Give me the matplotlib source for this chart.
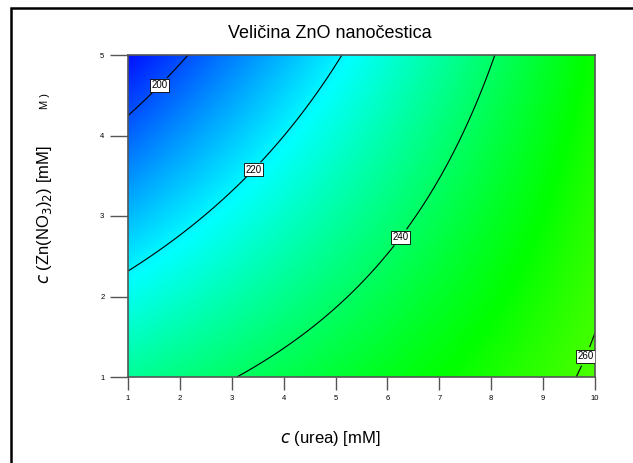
import numpy as np
import matplotlib
matplotlib.use("Agg")
import matplotlib.pyplot as plt
from matplotlib.colors import LinearSegmentedColormap
from matplotlib.patches import Rectangle

plt.rcParams['font.family'] = ['Liberation Sans', 'DejaVu Sans']

# --- points (urea, Zn(NO3)2) ---
c200_x = [1.0, 1.33, 2.15]
c200_y = [4.25, 4.44, 5.0]
c220_x = [1.0, 1.35, 2.83, 3.60, 4.55, 5.12]
c220_y = [2.33, 2.45, 3.20, 3.70, 4.44, 5.0]
c240_x = [3.1, 3.66, 5.16, 5.89, 6.74, 7.2, 7.74, 8.07]
c240_y = [1.0, 1.21, 1.96, 2.45, 3.20, 3.70, 4.44, 5.0]
c260_x = [9.63, 9.9, 10.0]
c260_y = [1.0, 1.36, 1.55]

levels = [200, 220, 240, 260]
label_pos = [(1.56, 4.66), (3.35, 3.62), (6.2, 2.76), (9.77, 1.27)]

x_ticks = [1, 2, 3, 4, 5, 6, 7, 8, 9, 10]
y_ticks = [1, 2, 3, 4, 5]

# --- quadratic response surface fitted to the contour points ---
px = np.array(c200_x + c220_x + c240_x + c260_x)
py = np.array(c200_y + c220_y + c240_y + c260_y)
pz = np.array([200]*len(c200_x) + [220]*len(c220_x) + [240]*len(c240_x) + [260]*len(c260_x))
A = np.column_stack([np.ones_like(px), px, py, px**2, py**2, px*py])
coef, *_ = np.linalg.lstsq(A, pz, rcond=None)

gx = np.linspace(1, 10, 400)
gy = np.linspace(1, 5, 300)
X, Y = np.meshgrid(gx, gy)
Z = (coef[0] + coef[1]*X + coef[2]*Y + coef[3]*X**2 + coef[4]*Y**2 + coef[5]*X*Y)

cmap = LinearSegmentedColormap.from_list(
    "de", ["#0000ff", "#00ffff", "#00ff00", "#ffff00", "#ff0000"])

fig = plt.figure(figsize=(6.33, 4.63), dpi=100)
ax = fig.add_axes([128/633, 1 - 377/463, 467/633, 322/463])

ax.imshow(Z, extent=[1, 10, 1, 5], origin="lower", aspect="auto",
          cmap=cmap, vmin=190, vmax=314, interpolation="bilinear")
cs = ax.contour(X, Y, Z, levels=levels, colors="black", linewidths=0.8)
labels = ax.clabel(cs, fmt="%d", fontsize=7, inline=True, inline_spacing=2,
                   manual=label_pos)
for t in labels:
    t.set_rotation(0)
    t.set_bbox(dict(facecolor="white", edgecolor="black", linewidth=0.6, pad=1.0))

ax.set_xlim(1, 10)
ax.set_ylim(1, 5)
ax.set_xticks(x_ticks)
ax.set_yticks(y_ticks)
ax.tick_params(axis="x", direction="out", length=9, width=1, color="#555555",
               labelsize=5.5, pad=4)
ax.tick_params(axis="y", direction="out", length=13, width=1, color="#555555",
               labelsize=5.5, pad=4)
for s in ax.spines.values():
    s.set_color("#555555")
    s.set_linewidth(1.2)

fig.text(330/633, 1 - 33/463, "Veličina ZnO nanočestica", ha="center", va="center",
         fontsize=13)
fig.text(330/633, 1 - 438/463, r"$\it{c}$ (urea) [mM]", ha="center", va="center",
         fontsize=12)
fig.text(45/633, 1 - 215/463, r"$\it{c}$ (Zn(NO$_3$)$_2$) [mM]", ha="center",
         va="center", rotation=90, fontsize=12)
fig.text(45/633, 1 - 101/463, "M )", ha="center", va="center", rotation=90,
         fontsize=8)

# outer frame
fig.patches.append(Rectangle((11/633, -0.1), 1.2, 1 - 8/463 + 0.1,
                             transform=fig.transFigure, fill=False,
                             edgecolor="black", linewidth=1.8))

fig.savefig("out.png", dpi=100)
